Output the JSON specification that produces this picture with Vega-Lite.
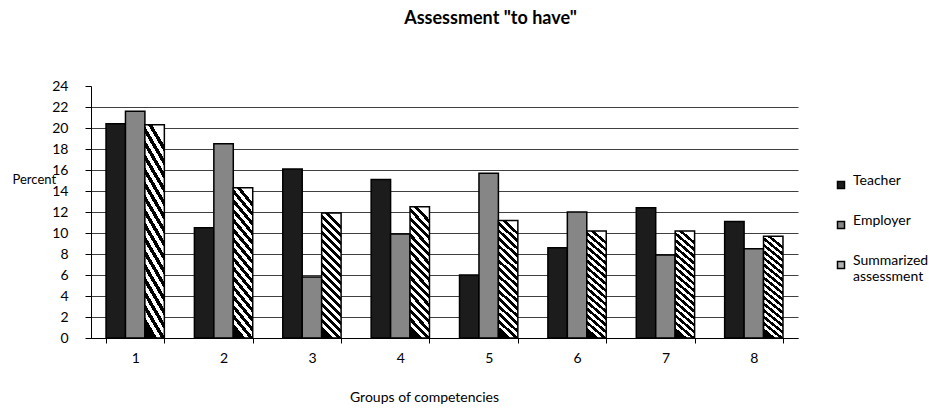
{
  "$schema": "https://vega.github.io/schema/vega-lite/v6.json",
  "width": 707,
  "height": 252,
  "padding": {"left": 12, "top": 10, "right": 5, "bottom": 5},
  "title": {"text": "Assessment \"to have\"", "fontSize": 18, "fontWeight": "bold", "font": "Lato", "color": "#000", "offset": 51, "dx": 46},
  "data": {
    "values": [
      {"group": 1, "series": "Teacher", "value": 20.4},
      {"group": 1, "series": "Employer", "value": 21.6},
      {"group": 1, "series": "Summarized assessment", "value": 20.3},
      {"group": 2, "series": "Teacher", "value": 10.5},
      {"group": 2, "series": "Employer", "value": 18.5},
      {"group": 2, "series": "Summarized assessment", "value": 14.3},
      {"group": 3, "series": "Teacher", "value": 16.1},
      {"group": 3, "series": "Employer", "value": 5.8},
      {"group": 3, "series": "Summarized assessment", "value": 11.9},
      {"group": 4, "series": "Teacher", "value": 15.1},
      {"group": 4, "series": "Employer", "value": 9.9},
      {"group": 4, "series": "Summarized assessment", "value": 12.5},
      {"group": 5, "series": "Teacher", "value": 6.0},
      {"group": 5, "series": "Employer", "value": 15.7},
      {"group": 5, "series": "Summarized assessment", "value": 11.2},
      {"group": 6, "series": "Teacher", "value": 8.6},
      {"group": 6, "series": "Employer", "value": 12.0},
      {"group": 6, "series": "Summarized assessment", "value": 10.2},
      {"group": 7, "series": "Teacher", "value": 12.4},
      {"group": 7, "series": "Employer", "value": 7.9},
      {"group": 7, "series": "Summarized assessment", "value": 10.2},
      {"group": 8, "series": "Teacher", "value": 11.1},
      {"group": 8, "series": "Employer", "value": 8.5},
      {"group": 8, "series": "Summarized assessment", "value": 9.7}
    ]
  },
  "mark": {"type": "bar", "stroke": "#000", "strokeWidth": 1.5},
  "encoding": {
    "x": {
      "field": "group",
      "type": "ordinal",
      "scale": {"paddingInner": 0.34, "paddingOuter": 0.17},
      "axis": {
        "title": "Groups of competencies",
        "labelAngle": 0,
        "tickBand": "extent",
        "tickSize": 5,
        "grid": false,
        "labelFontSize": 14,
        "labelPadding": 8,
        "titlePadding": 25,
        "titleFontSize": 14,
        "titleX": 333,
        "titleAlign": "center"
      }
    },
    "xOffset": {
      "field": "series",
      "type": "nominal",
      "sort": ["Teacher", "Employer", "Summarized assessment"],
      "scale": {"paddingInner": 0, "paddingOuter": 0}
    },
    "y": {
      "field": "value",
      "type": "quantitative",
      "scale": {"domain": [0, 24]},
      "axis": {
        "values": [0, 2, 4, 6, 8, 10, 12, 14, 16, 18, 20, 22, 24],
        "title": "Percent",
        "titleAngle": 0,
        "titleAlign": "left",
        "titleBaseline": "middle",
        "titleX": -79,
        "titleY": 93,
        "titleFontSize": 13,
        "labelFontSize": 14,
        "labelPadding": 17,
        "tickSize": 6,
        "grid": true,
        "gridColor": {"condition": {"test": "datum.value === 24", "value": "transparent"}, "value": "#404040"}
      }
    },
    "fill": {
      "condition": {
        "test": "datum.series === 'Summarized assessment'",
        "value": {
          "gradient": "linear",
          "x1": 0.4225, "y1": 1, "x2": 0.5775, "y2": 0,
          "stops": [
            {"offset": 0, "color": "#000"}, {"offset": 0.03125, "color": "#000"}, {"offset": 0.03125, "color": "#fff"}, {"offset": 0.0625, "color": "#fff"},
            {"offset": 0.0625, "color": "#000"}, {"offset": 0.09375, "color": "#000"}, {"offset": 0.09375, "color": "#fff"}, {"offset": 0.125, "color": "#fff"},
            {"offset": 0.125, "color": "#000"}, {"offset": 0.15625, "color": "#000"}, {"offset": 0.15625, "color": "#fff"}, {"offset": 0.1875, "color": "#fff"},
            {"offset": 0.1875, "color": "#000"}, {"offset": 0.21875, "color": "#000"}, {"offset": 0.21875, "color": "#fff"}, {"offset": 0.25, "color": "#fff"},
            {"offset": 0.25, "color": "#000"}, {"offset": 0.28125, "color": "#000"}, {"offset": 0.28125, "color": "#fff"}, {"offset": 0.3125, "color": "#fff"},
            {"offset": 0.3125, "color": "#000"}, {"offset": 0.34375, "color": "#000"}, {"offset": 0.34375, "color": "#fff"}, {"offset": 0.375, "color": "#fff"},
            {"offset": 0.375, "color": "#000"}, {"offset": 0.40625, "color": "#000"}, {"offset": 0.40625, "color": "#fff"}, {"offset": 0.4375, "color": "#fff"},
            {"offset": 0.4375, "color": "#000"}, {"offset": 0.46875, "color": "#000"}, {"offset": 0.46875, "color": "#fff"}, {"offset": 0.5, "color": "#fff"},
            {"offset": 0.5, "color": "#000"}, {"offset": 0.53125, "color": "#000"}, {"offset": 0.53125, "color": "#fff"}, {"offset": 0.5625, "color": "#fff"},
            {"offset": 0.5625, "color": "#000"}, {"offset": 0.59375, "color": "#000"}, {"offset": 0.59375, "color": "#fff"}, {"offset": 0.625, "color": "#fff"},
            {"offset": 0.625, "color": "#000"}, {"offset": 0.65625, "color": "#000"}, {"offset": 0.65625, "color": "#fff"}, {"offset": 0.6875, "color": "#fff"},
            {"offset": 0.6875, "color": "#000"}, {"offset": 0.71875, "color": "#000"}, {"offset": 0.71875, "color": "#fff"}, {"offset": 0.75, "color": "#fff"},
            {"offset": 0.75, "color": "#000"}, {"offset": 0.78125, "color": "#000"}, {"offset": 0.78125, "color": "#fff"}, {"offset": 0.8125, "color": "#fff"},
            {"offset": 0.8125, "color": "#000"}, {"offset": 0.84375, "color": "#000"}, {"offset": 0.84375, "color": "#fff"}, {"offset": 0.875, "color": "#fff"},
            {"offset": 0.875, "color": "#000"}, {"offset": 0.90625, "color": "#000"}, {"offset": 0.90625, "color": "#fff"}, {"offset": 0.9375, "color": "#fff"},
            {"offset": 0.9375, "color": "#000"}, {"offset": 0.96875, "color": "#000"}, {"offset": 0.96875, "color": "#fff"}, {"offset": 1, "color": "#fff"}
          ]
        }
      },
      "field": "series",
      "type": "nominal",
      "sort": ["Teacher", "Employer", "Summarized assessment"],
      "scale": {
        "domain": ["Teacher", "Employer", "Summarized assessment"],
        "range": ["#1c1c1c", "#868686", "#b0b0b0"]
      },
      "legend": {
        "title": null,
        "orient": "none",
        "legendX": 743,
        "legendY": 92,
        "symbolType": "square",
        "symbolSize": 49,
        "symbolStrokeColor": "#000",
        "symbolStrokeWidth": 1.5,
        "labelFontSize": 14,
        "labelOffset": 5,
        "labelBaseline": "alphabetic",
        "rowPadding": 22,
        "labelExpr": "datum.label === 'Summarized assessment' ? ['Summarized', 'assessment'] : datum.label",
        "encode": {
          "labels": {"dy": {"value": 8}, "lineHeight": {"value": 16}}
        }
      }
    }
  },
  "config": {
    "font": "Lato",
    "view": {"stroke": null},
    "axis": {
      "domainColor": "#000",
      "tickColor": "#000",
      "labelColor": "#000",
      "titleColor": "#000",
      "titleFontWeight": "normal",
      "labelFont": "Lato",
      "titleFont": "Lato"
    },
    "legend": {"labelColor": "#000", "labelFont": "Lato"}
  }
}
